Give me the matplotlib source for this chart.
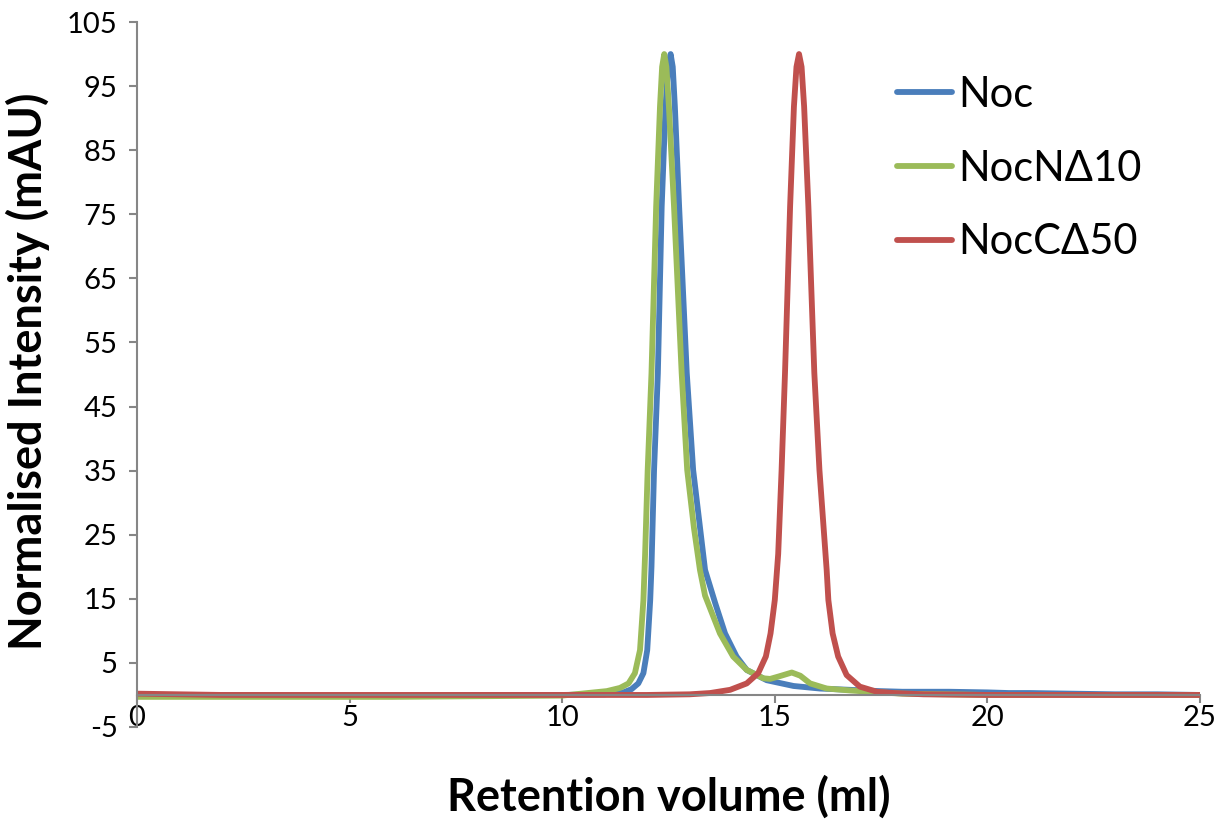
import matplotlib.pyplot as plt

# Size-exclusion traces
noc_x = [0, 2, 4, 6, 8, 10, 11, 11.44, 11.63, 11.79, 11.91, 12.0, 12.07, 12.1,
         12.16, 12.25, 12.34, 12.43, 12.49, 12.55, 12.6, 12.65, 12.75, 12.93,
         13.08, 13.36, 13.6, 13.83, 14.1, 14.34, 14.81, 15.44, 16.06, 16.77,
         17.47, 18, 19.1, 20, 20.5, 21, 22, 23, 24, 25]
noc_y = [0, 0, -0.1, -0.1, 0, 0, 0.1, 0.4, 0.9, 1.8, 3.4, 7.0, 14.8, 20,
         35, 50.2, 76.2, 91.8, 98, 100, 98, 91.8, 76.2, 50.2,
         35.1, 19.5, 14.3, 9.6, 6.0, 3.9, 2.3, 1.4, 1.0, 0.8,
         0.6, 0.5, 0.5, 0.4, 0.3, 0.3, 0.2, 0.1, 0.1, 0]

nocn_x = [0, 2, 4, 6, 8, 10, 11.05, 11.36, 11.56, 11.71, 11.83, 11.91, 11.95,
          12.01, 12.10, 12.21, 12.30, 12.35, 12.40, 12.45, 12.51, 12.63, 12.81,
          12.94, 13.1, 13.24, 13.36, 13.71, 14.02, 14.34, 14.73, 14.89, 15.1, 15.4,
          15.6, 15.83, 16.22, 16.77, 17.47, 18, 20, 22, 25]
nocn_y = [-0.3, -0.3, -0.3, -0.3, -0.2, -0.1, 0.6, 1.1, 1.8, 3.4, 7.0, 14.8, 22,
          35, 50.2, 76.2, 91.8, 98, 100, 98, 91.8, 76.2, 50.2,
          35.1, 26, 19.5, 15.5, 9.6, 6.0, 3.9, 2.6, 2.5, 2.9, 3.5,
          3.0, 1.8, 1.0, 0.7, 0.4, 0.2, 0, 0, 0]

nocc_x = [0, 2, 4, 6, 8, 10, 12, 13, 13.48, 13.95, 14.34, 14.61, 14.79, 14.9,
          15.0, 15.08, 15.16, 15.24, 15.36, 15.45, 15.51, 15.57, 15.63, 15.69,
          15.79, 15.93, 16.05, 16.22, 16.26, 16.36, 16.49, 16.69, 17.0, 17.4,
          17.8, 18.5, 20, 22, 25]
nocc_y = [0.2, 0, 0, 0, 0, 0, 0, 0.1, 0.3, 0.8, 1.8, 3.4, 6.0, 9.6,
          14.8, 22, 35.1, 50.2, 76.2, 91.8, 98, 100, 98, 91.8,
          76.2, 50.2, 35.1, 19.5, 14.8, 9.6, 6.0, 3.1, 1.3, 0.5,
          0.3, 0.1, 0, 0, 0]

labels = ["Noc", "NocN\u039410", "NocC\u039450"]
colors = ["#4A7EBB", "#9BBB59", "#C0504D"]
yticks = [-5, 5, 15, 25, 35, 45, 55, 65, 75, 85, 95, 105]
xticks = [0, 5, 10, 15, 20, 25]

plt.rcParams['font.family'] = ['Lato', 'DejaVu Sans']
plt.rcParams['axes.unicode_minus'] = False

fig = plt.figure(figsize=(12.31, 8.21), dpi=100)
ax = fig.add_axes([0.1113, 0.1145, 0.8635, 0.8587])

for xs, ys, lab, c in [(noc_x, noc_y, labels[0], colors[0]),
                       (nocn_x, nocn_y, labels[1], colors[1]),
                       (nocc_x, nocc_y, labels[2], colors[2])]:
    ax.plot(xs, ys, color=c, lw=4.2, label=lab,
            solid_joinstyle='round', solid_capstyle='round')

ax.set_xlim(0, 25)
ax.set_ylim(-5, 105)
ax.set_xticks(xticks)
ax.set_yticks(yticks)

grey = "#868686"
for s in ['top', 'right']:
    ax.spines[s].set_visible(False)
ax.spines['bottom'].set_position(('data', 0))
ax.spines['bottom'].set_color(grey)
ax.spines['left'].set_color(grey)
ax.spines['bottom'].set_linewidth(1.5)
ax.spines['left'].set_linewidth(1.5)
ax.tick_params(axis='both', color=grey, width=1.5, length=6,
               labelsize=21, direction='out')
ax.tick_params(axis='x', pad=1)
ax.tick_params(axis='y', pad=8)

ax.set_xlabel("Retention volume (ml)", fontsize=32.5, fontweight='bold')
ax.xaxis.set_label_coords(0.5, -0.068)
ax.set_ylabel("Normalised Intensity (mAU)", fontsize=32.5, fontweight='bold')
ax.yaxis.set_label_coords(-0.082, 0.504)

leg = ax.legend(loc='upper left', bbox_to_anchor=(0.699, 0.9475), frameon=False,
                fontsize=30, handlelength=1.32, handletextpad=0.15,
                labelspacing=0.86, borderaxespad=0)

fig.savefig("out.png", dpi=100)
